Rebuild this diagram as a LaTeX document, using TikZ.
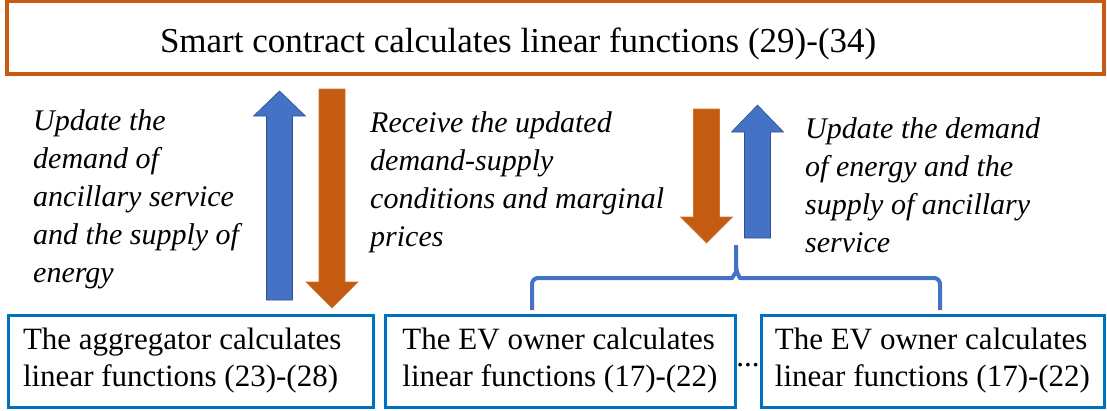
\documentclass[tikz,border=0pt]{standalone}
\usepackage{fontspec}
\setmainfont{Liberation Serif}
\usepackage{tikz}
\usetikzlibrary{positioning}

\definecolor{ctorange}{HTML}{C55A11}
\definecolor{arrblue}{HTML}{4472C4}
\definecolor{arrline}{HTML}{2F528F}
\definecolor{boxblue}{HTML}{0070C0}

% block arrow: style, x, tail y, head base y, tip y
\newcommand{\blockarr}[5]{%
  \filldraw[#1] ({#2-13},#3) -- ({#2-13},#4) -- ({#2-26},#4) -- (#2,#5)
    -- ({#2+26},#4) -- ({#2+13},#4) -- ({#2+13},#3) -- cycle;}

\begin{document}
\begin{tikzpicture}[x=1pt,y=-1pt,
    top box/.style={draw=ctorange,line width=3.5pt,minimum width=1097pt,minimum height=73pt,
      text width=791pt,align=flush left,text height=30pt,text depth=1pt,
      font=\fontsize{35}{42}\selectfont},
    calc box/.style={draw=boxblue,line width=3pt,minimum height=92pt,align=flush left,
      font=\fontsize{31}{37}\selectfont},
    note/.style={anchor=north west,inner sep=0pt,align=left,
      font=\fontsize{30}{38}\selectfont\itshape},
    up arr/.style={fill=arrblue,draw=arrline,line width=0.6pt},
    down arr/.style={fill=ctorange,draw=ctorange!85!white,line width=0.6pt},
    ev brace/.style={draw=arrblue,line width=4pt,rounded corners=6pt}]

  \useasboundingbox (0,0) rectangle (1107,410);

  \node[top box] (contract) at (555.5,37.5) {Smart contract calculates linear functions (29)-(34)};

  \node[calc box,minimum width=365pt,text width=335pt] (agg) at (190.5,361) {The aggregator calculates\\linear functions (23)-(28)};
  \node[calc box,minimum width=350pt] (ev1) at (560,361) {The EV owner calculates\\linear functions (17)-(22)};
  \node[calc box,minimum width=343pt] (ev2) at (932.5,361) {The EV owner calculates\\linear functions (17)-(22)};
  \node[anchor=base,inner sep=0pt,font=\fontsize{31}{37}\selectfont] (dots) at (748,366) {...};

  % arrows between the contract and the participants
  \blockarr{up arr}{279.5}{300}{116}{91}
  \blockarr{down arr}{332}{89}{282}{308}
  \blockarr{down arr}{706.5}{109}{217}{243}
  \blockarr{up arr}{757.5}{238}{132}{105}

  \node[note] (aggup) at (33,109.5) {Update the\\demand of\\ancillary service\\and the supply of\\energy};
  \node[note] (recv) at (370,111.5) {Receive the updated\\demand-supply\\conditions and marginal\\prices};
  \node[note] (evup) at (805,117.5) {Update the demand\\of energy and the\\supply of ancillary\\service};

  % brace over the EV owners
  \coordinate (bl) at (532,310);
  \coordinate (br) at (940,310);
  \coordinate (bt) at (736,245);
  \draw[ev brace] (bl) -- (532,278) -- (726,278) to[out=0,in=-90] (736,266) -- (bt);
  \draw[ev brace] (736,266) to[out=-90,in=180] (746,278) -- (940,278) -- (br);
\end{tikzpicture}
\end{document}
